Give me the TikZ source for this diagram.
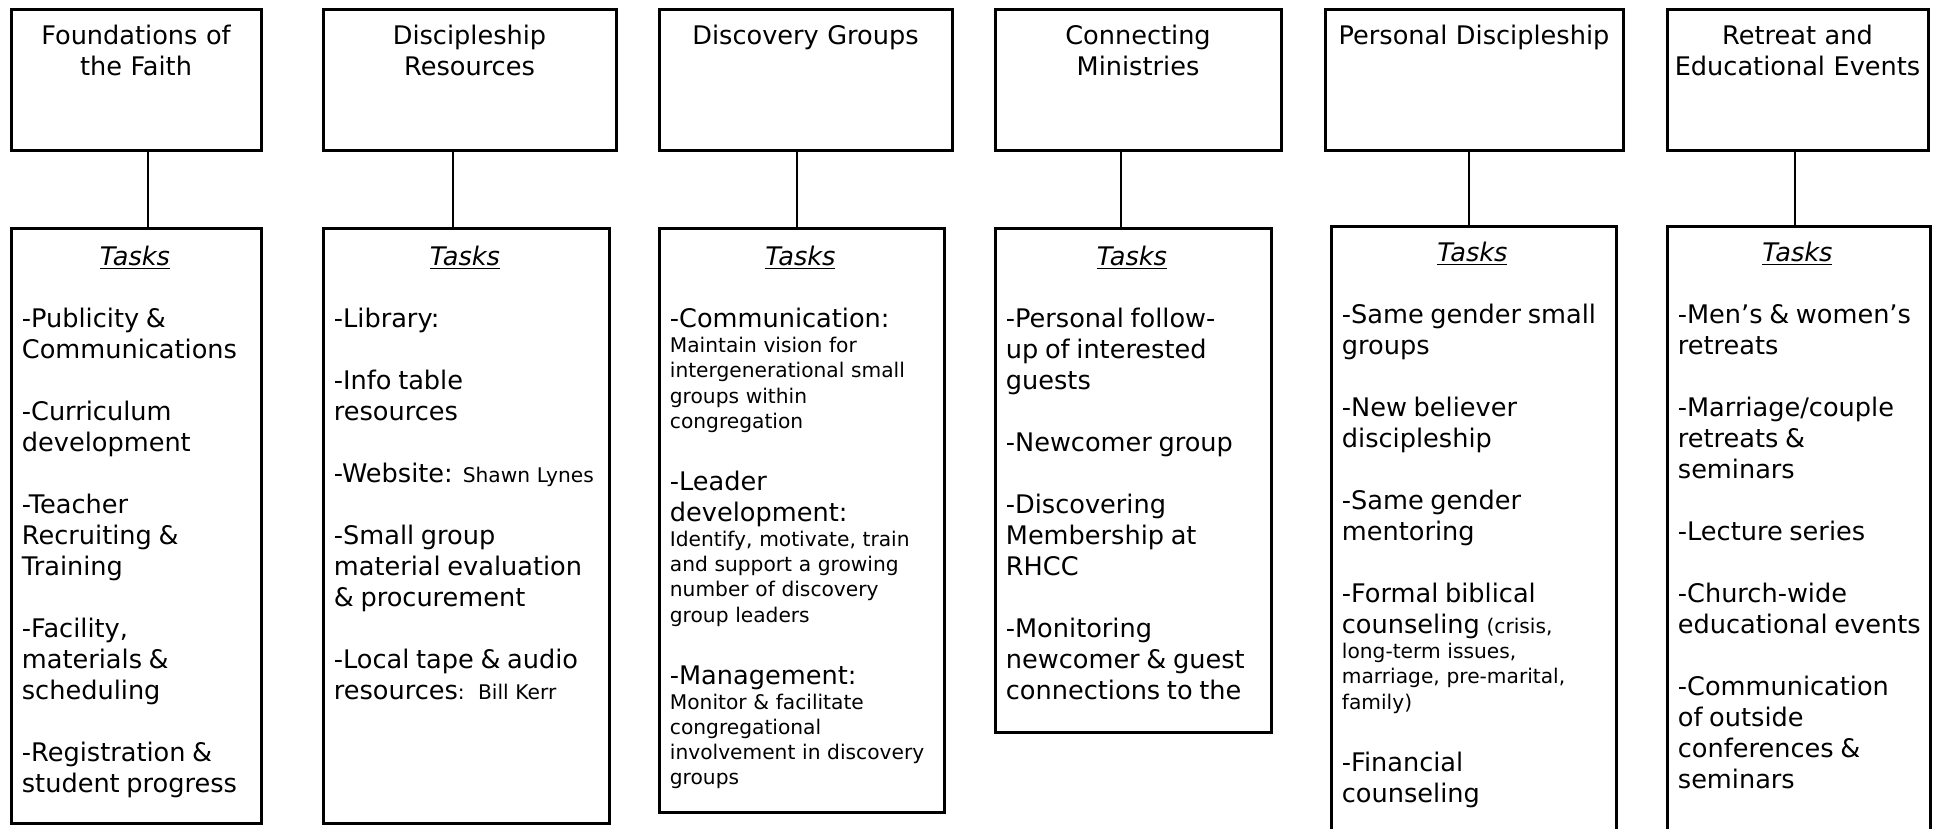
\documentclass[tikz,border=0pt]{standalone}
\usepackage{fontspec}
\setmainfont{DejaVu Sans}
\newcommand\bigf{\fontsize{12.8pt}{15.5pt}\selectfont}
\newcommand\smf{\fontsize{10.1pt}{12.6pt}\selectfont}
\newcommand\gap{\par\vspace{15.5pt}}
\newcommand\tasksl[2]{{\bigf\noindent\rule{0pt}{#2}\makebox[#1][c]{\underline{\textit{Tasks}}}\par}}
\newcommand\bi[1]{{\bigf\noindent #1\par}}
\newcommand\si[1]{{\smf\noindent #1\par}}
\tikzset{
  box/.style={draw, line width=1.5pt, rectangle, inner sep=0pt},
  conn/.style={draw, line width=1.1pt},
  ttl/.style={anchor=north, inner sep=0pt, text width=#1, align=center, font=\bigf},
  tx/.style={anchor=north west, inner sep=0pt, text width=220pt, align=left}
}
\begin{document}
\begin{tikzpicture}[x=0.5pt, y=-0.5pt]
\useasboundingbox (0,0) rectangle (1935,829);
\clip (0,0) rectangle (1935,829);
\fill[white] (0,0) rectangle (1935,829);
% top boxes
\node[box, minimum width=125pt, minimum height=70.5pt] (b1) at (136,80.5) {};
\node[box, minimum width=146.5pt, minimum height=70.5pt] (b2) at (469.5,80.5) {};
\node[box, minimum width=146.5pt, minimum height=70.5pt] (b3) at (805.5,80.5) {};
\node[box, minimum width=143pt, minimum height=70.5pt] (b4) at (1138,80.5) {};
\node[box, minimum width=149pt, minimum height=70.5pt] (b5) at (1474,80.5) {};
\node[box, minimum width=130.5pt, minimum height=70.5pt] (b6) at (1797.5,80.5) {};
% titles
\node[ttl=125pt] (h1) at (b1.north) {\rule{0pt}{17.6pt}Foundations of\\the Faith};
\node[ttl=146.5pt] (h2) at (b2.north) {\rule{0pt}{17.6pt}Discipleship\\Resources};
\node[ttl=146.5pt] (h3) at (b3.north) {\rule{0pt}{17.6pt}Discovery Groups};
\node[ttl=143pt] (h4) at (b4.north) {\rule{0pt}{17.6pt}Connecting\\Ministries};
\node[ttl=149pt] (h5) at (b5.north) {\rule{0pt}{17.6pt}Personal Discipleship};
\node[ttl=130.5pt] (h6) at (b6.north) {\rule{0pt}{17.6pt}Retreat and\\Educational Events};
% task boxes
\node[box, minimum width=125pt, minimum height=297pt] (t1) at (136,526) {};
\node[box, minimum width=143pt, minimum height=297pt] (t2) at (466,526) {};
\node[box, minimum width=142.5pt, minimum height=291.5pt] (t3) at (801.5,520.5) {};
\node[box, minimum width=138pt, minimum height=251.5pt] (t4) at (1133,480.5) {};
\node[box, minimum width=142.5pt, minimum height=309pt] (t5) at (1473.5,536) {};
\node[box, minimum width=131.5pt, minimum height=309pt] (t6) at (1798.5,536) {};
% connectors
\coordinate (c1) at (148,0);
\coordinate (c2) at (453,0);
\coordinate (c3) at (797,0);
\coordinate (c4) at (1121,0);
\coordinate (c5) at (1469,0);
\coordinate (c6) at (1795,0);
\draw[conn] (b1.south -| c1) -- (t1.north -| c1);
\draw[conn] (b2.south -| c2) -- (t2.north -| c2);
\draw[conn] (b3.south -| c3) -- (t3.north -| c3);
\draw[conn] (b4.south -| c4) -- (t4.north -| c4);
\draw[conn] (b5.south -| c5) -- (t5.north -| c5);
\draw[conn] (b6.south -| c6) -- (t6.north -| c6);
% task texts
\node[tx] (x1) at ([xshift=6pt]t1.north west) {%
\tasksl{113pt}{18.8pt}\gap
\bi{-Publicity \&\\Communications}\gap
\bi{-Curriculum\\development}\gap
\bi{-Teacher\\Recruiting \&\\Training}\gap
\bi{-Facility,\\materials \&\\scheduling}\gap
\bi{-Registration \&\\student progress}};
\node[tx] (x2) at ([xshift=6pt]t2.north west) {%
\tasksl{131pt}{18.8pt}\gap
\bi{-Library:}\gap
\bi{-Info table\\resources}\gap
\bi{-Website: {\smf Shawn Lynes}}\gap
\bi{-Small group\\material evaluation\\\& procurement}\gap
\bi{-Local tape \& audio\\resources{\smf:\ \ Bill Kerr}}};
\node[tx] (x3) at ([xshift=6pt]t3.north west) {%
\tasksl{130.5pt}{18.8pt}\gap
\bi{-Communication:}
\si{Maintain vision for\\intergenerational small\\groups within\\congregation}\gap
\bi{-Leader\\development:}
\si{Identify, motivate, train\\and support a growing\\number of discovery\\group leaders}\gap
\bi{-Management:}
\si{Monitor \& facilitate\\congregational\\involvement in discovery\\groups}};
\node[tx] (x4) at ([xshift=6pt]t4.north west) {%
\tasksl{126pt}{18.8pt}\gap
\bi{-Personal follow-\\up of interested\\guests}\gap
\bi{-Newcomer group}\gap
\bi{-Discovering\\Membership at\\RHCC}\gap
\bi{-Monitoring\\newcomer \& guest\\connections to the}};
\node[tx] (x5) at ([xshift=6pt]t5.north west) {%
\tasksl{130.5pt}{17.8pt}\gap
\bi{-Same gender small\\groups}\gap
\bi{-New believer\\discipleship}\gap
\bi{-Same gender\\mentoring}\gap
\bi{-Formal biblical\\counseling {\smf(crisis,}}
\si{long-term issues,\\marriage, pre-marital,\\family)}\gap
\bi{-Financial\\counseling}};
\node[tx] (x6) at ([xshift=6pt]t6.north west) {%
\tasksl{119.5pt}{17.8pt}\gap
\bi{-Men’s \& women’s\\retreats}\gap
\bi{-Marriage/couple\\retreats \&\\seminars}\gap
\bi{-Lecture series}\gap
\bi{-Church-wide\\educational events}\gap
\bi{-Communication\\of outside\\conferences \&\\seminars}};
\end{tikzpicture}
\end{document}
